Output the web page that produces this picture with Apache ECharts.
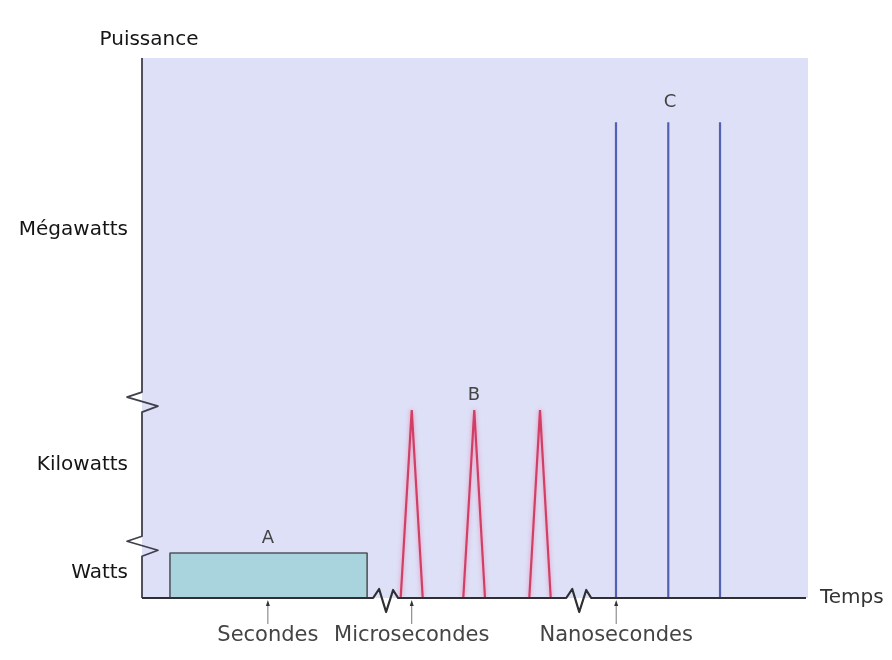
<!DOCTYPE html>
<html><head><meta charset="utf-8">
<script src="https://cdn.jsdelivr.net/npm/echarts@6.0.0/dist/echarts.min.js"></script>
<style>html,body{margin:0;background:#fff}#c{width:892px;height:660px}</style>
</head><body><div id="c"></div>
<script>
// ---- data (time axis 0..100, power axis 0..100, piecewise scale) ----
const pulseAStart = 4.2, pulseAEnd = 33.8, pulseALevel = 8.33;
const pulseBStarts = [38.84, 48.24, 58.15];
const pulseBPeaks  = [40.50, 49.89, 59.76];
const pulseBEnds   = [42.15, 51.50, 61.37];
const pulseBLevel = 34.8;
const pulseCX = [71.17, 79.02, 86.79];
const pulseCLevel = 88.1;
const pulseNames = ['A', 'B', 'C'];
const pulseNameX = [18.9, 49.85, 79.3];
const pulseNameY = [11.1, 37.6, 91.7];
const powerLabels = ['Watts', 'Kilowatts', 'Mégawatts'];
const powerLabelY = [4.6, 24.6, 68.1];
const timeLabels = ['Secondes', 'Microsecondes', 'Nanosecondes'];
const timeLabelX = [18.9, 40.5, 71.2];
const yBreaks = [36.1, 9.4];
const xBreaks = [36.5, 65.5];
const axisNames = ['Puissance', 'Temps'];

// ---- styling ----
const FONT = '"DejaVu Sans", "Liberation Sans", Arial, sans-serif';
const yZig = [[0, -11], [-15, -6], [16, 3], [0, 9]];
const xZig = [[-12, 0], [-6, -9], [1, 14], [8, -8], [13, 0]];

const chart = echarts.init(document.getElementById('c'), null, {renderer: 'canvas'});

function axesItem(params, api) {
  if (params.dataIndex !== 0) return null;
  const top = api.coord([0, 100]), origin = api.coord([0, 0]), end = api.coord([100, 0]);
  const ypts = [top];
  yBreaks.slice().sort((a, b) => b - a).forEach(b => {
    const p = api.coord([0, b]);
    yZig.forEach(o => ypts.push([p[0] + o[0], p[1] + o[1]]));
  });
  ypts.push(origin);
  const xpts = [origin];
  xBreaks.slice().sort((a, b) => a - b).forEach(b => {
    const p = api.coord([b, 0]);
    xZig.forEach(o => xpts.push([p[0] + o[0], p[1] + o[1]]));
  });
  xpts.push([end[0] - 2, end[1]]);
  const children = [
    {type: 'polyline', shape: {points: ypts}, style: {stroke: '#40404c', lineWidth: 1.8, fill: null, lineJoin: 'round'}},
    {type: 'polyline', shape: {points: xpts}, style: {stroke: '#2e2e33', lineWidth: 2.2, fill: null, lineJoin: 'round'}},
    {type: 'text', x: top[0] + 7, y: top[1] - 18,
      style: {text: axisNames[0], font: '20px ' + FONT, fill: '#151515', align: 'center', verticalAlign: 'middle'}},
    {type: 'text', x: end[0] + 12, y: end[1],
      style: {text: axisNames[1], font: '20px ' + FONT, fill: '#333', align: 'left', verticalAlign: 'middle'}}
  ];
  powerLabels.forEach((t, i) => {
    const p = api.coord([0, powerLabelY[i]]);
    children.push({type: 'text', x: p[0] - 14, y: p[1],
      style: {text: t, font: '20px ' + FONT, fill: '#151515', align: 'right', verticalAlign: 'middle'}});
  });
  timeLabels.forEach((t, i) => {
    const p = api.coord([timeLabelX[i], 0]);
    children.push({type: 'line', shape: {x1: p[0], y1: p[1] + 6, x2: p[0], y2: p[1] + 26},
      style: {stroke: '#777', lineWidth: 1}});
    children.push({type: 'polygon', shape: {points: [[p[0], p[1] + 2], [p[0] - 2, p[1] + 8], [p[0] + 2, p[1] + 8]]},
      style: {fill: '#333'}});
    children.push({type: 'text', x: p[0], y: p[1] + 38,
      style: {text: t, font: '21px ' + FONT, fill: '#444', align: 'center', verticalAlign: 'middle'}});
  });
  pulseNames.forEach((t, i) => {
    const p = api.coord([pulseNameX[i], pulseNameY[i]]);
    children.push({type: 'text', x: p[0], y: p[1],
      style: {text: t, font: '18px ' + FONT, fill: '#444', align: 'center', verticalAlign: 'middle'}});
  });
  return {type: 'group', children};
}

const series = [];
series.push({
  type: 'line', name: 'A', symbol: 'none', z: 3,
  data: [[pulseAStart, 0], [pulseAStart, pulseALevel], [pulseAEnd, pulseALevel], [pulseAEnd, 0]],
  lineStyle: {color: '#50555c', width: 1.6},
  areaStyle: {color: '#a9d4de', opacity: 1}
});
pulseBStarts.forEach((s, i) => {
  series.push({
    type: 'line', name: 'B' + i, symbol: 'none', z: 3,
    data: [[s, 0], [pulseBPeaks[i], pulseBLevel], [pulseBEnds[i], 0]],
    lineStyle: {color: '#cf3f66', width: 2.2, shadowColor: 'rgba(240,120,160,0.8)', shadowBlur: 4}
  });
});
pulseCX.forEach((x, i) => {
  series.push({
    type: 'line', name: 'C' + i, symbol: 'none', z: 3,
    data: [[x, 0], [x, pulseCLevel]],
    lineStyle: {color: '#5361b3', width: 2.2}
  });
});
series.push({
  type: 'custom', clip: false, z: 10, silent: true,
  renderItem: axesItem, data: [[0, 0]]
});

chart.setOption({
  animation: false,
  grid: {left: 142, top: 58, right: 84, bottom: 62, show: true, backgroundColor: '#dde0f7', borderWidth: 0},
  xAxis: {type: 'value', min: 0, max: 100, show: false},
  yAxis: {type: 'value', min: 0, max: 100, show: false},
  series
});
</script>
</body></html>
